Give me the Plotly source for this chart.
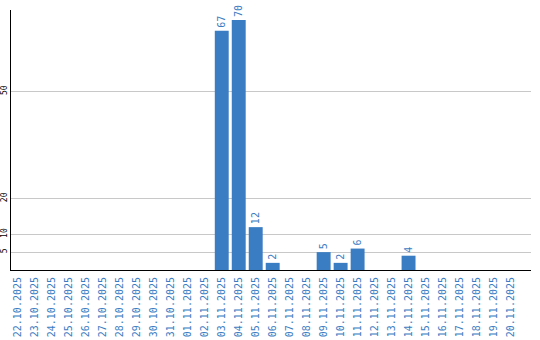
import plotly.graph_objects as go

dates = ["22.10.2025", "23.10.2025", "24.10.2025", "25.10.2025", "26.10.2025",
         "27.10.2025", "28.10.2025", "29.10.2025", "30.10.2025", "31.10.2025",
         "01.11.2025", "02.11.2025", "03.11.2025", "04.11.2025", "05.11.2025",
         "06.11.2025", "07.11.2025", "08.11.2025", "09.11.2025", "10.11.2025",
         "11.11.2025", "12.11.2025", "13.11.2025", "14.11.2025", "15.11.2025",
         "16.11.2025", "17.11.2025", "18.11.2025", "19.11.2025", "20.11.2025"]
values = [0, 0, 0, 0, 0, 0, 0, 0, 0, 0, 0, 0, 67, 70, 12, 2, 0, 0, 5, 2, 6, 0, 0, 4, 0, 0, 0, 0, 0, 0]
y_ticks = [5, 10, 20, 50]

blue = "#3a7dc3"
mono = "DejaVu Sans Mono, Liberation Mono, monospace"

fig = go.Figure(go.Bar(
    x=list(range(len(dates))),
    y=values,
    marker=dict(color=blue, line=dict(width=0)),
    width=0.82,
    text=[str(v) if v else "" for v in values],
    textposition="outside",
    textangle=-90,
    textfont=dict(family=mono, size=10, color=blue),
    cliponaxis=False,
))

fig.update_layout(
    width=540, height=340,
    margin=dict(l=10.5, r=9, t=10, b=70),
    plot_bgcolor="white", paper_bgcolor="white",
    showlegend=False,
    xaxis=dict(
        tickmode="array", tickvals=list(range(len(dates))), ticktext=dates,
        tickangle=-90, tickfont=dict(family=mono, size=10, color=blue),
        range=[-0.41, 30.21], showgrid=False, showline=True, linecolor="black",
        linewidth=1, ticks="", zeroline=False, automargin=False, ticklabelstandoff=2,
    ),
    yaxis=dict(
        tickmode="array", tickvals=y_ticks, ticktext=[str(t) for t in y_ticks],
        tickangle=-90, tickfont=dict(family=mono, size=8, color="black"),
        range=[0, 72.8], showgrid=True, gridcolor="#c8c8c8", gridwidth=1,
        showline=True, linecolor="black", linewidth=1, ticks="", zeroline=False,
        automargin=False,
    ),
)

fig.write_html("out.html")
